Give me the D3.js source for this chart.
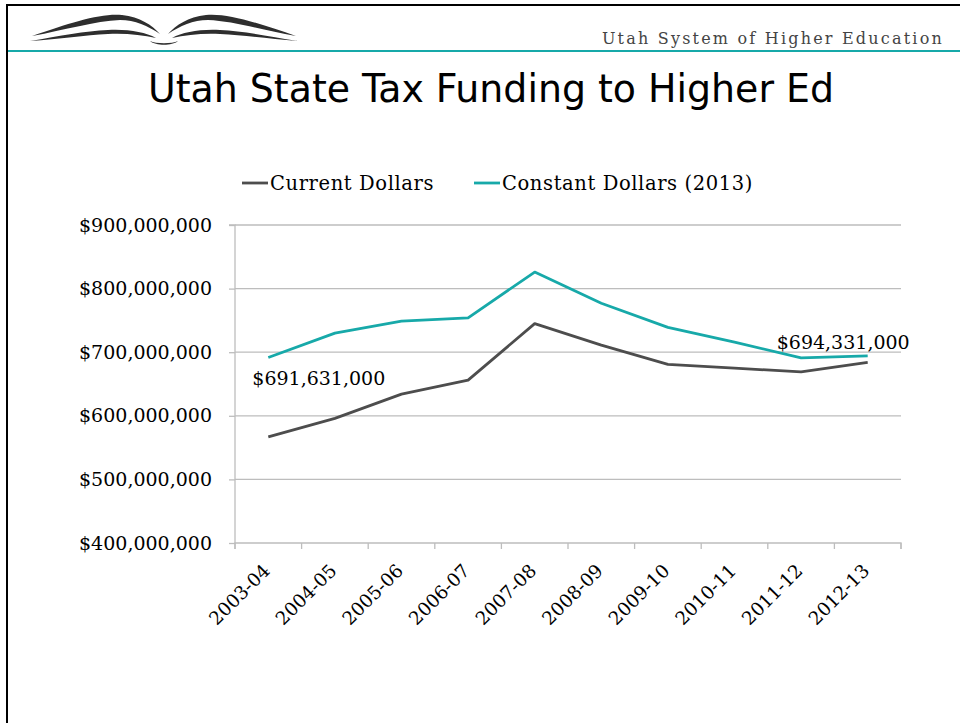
<!DOCTYPE html>
<html><head><meta charset="utf-8">
<script src="https://cdn.jsdelivr.net/npm/d3@7"></script>
<style>html,body{margin:0;padding:0;background:#fff;}svg{display:block;}</style>
</head><body>
<svg id="c" width="960" height="723"></svg>
<script>
const categories = ["2003-04","2004-05","2005-06","2006-07","2007-08","2008-09","2009-10","2010-11","2011-12","2012-13"];
const currentDollars = [567e6, 596e6, 634e6, 656e6, 745e6, 711e6, 681e6, 675e6, 669e6, 684e6];
const constantDollars = [691631000, 730e6, 749e6, 754e6, 826e6, 777e6, 739e6, 716e6, 691e6, 694331000];
const yTicks = [400e6, 500e6, 600e6, 700e6, 800e6, 900e6];
const seriesNames = ["Current Dollars", "Constant Dollars (2013)"];
const colors = ["#4d4d4d", "#17a9a9"];

const svg = d3.select("#c");
// slide frame
svg.append("line").attr("x1",6).attr("x2",960).attr("y1",5).attr("y2",5).attr("stroke","#000").attr("stroke-width",2);
svg.append("line").attr("x1",7).attr("x2",7).attr("y1",4).attr("y2",723).attr("stroke","#000").attr("stroke-width",2);
svg.append("line").attr("x1",8).attr("x2",960).attr("y1",51).attr("y2",51).attr("stroke","#17a9a9").attr("stroke-width",2);

// logo (open book)
const lg = svg.append("g").attr("fill","#2e2e2e");
lg.append("path").attr("d","M32,36 C70,23 100,13 122,15 C140,17 152,25 160,34 C148,26 135,20 120,20 C95,21 65,30 32,36 Z");
lg.append("path").attr("d","M30,41 C60,36 85,31 108,30 C128,29 145,32 156,38 C142,35 125,33 108,34 C85,35 60,39 30,41 Z");
lg.append("path").attr("d","M296,36 C258,23 228,13 206,15 C188,17 176,25 168,34 C180,26 193,20 208,20 C233,21 263,30 296,36 Z");
lg.append("path").attr("d","M298,41 C268,36 243,31 220,30 C200,29 183,32 172,38 C186,35 203,33 220,34 C243,35 268,39 298,41 Z");
lg.append("path").attr("d","M150,41 C156,46 172,46 178,41 C172,44 156,44 150,41 Z");

svg.append("text").attr("x",944).attr("y",44).attr("text-anchor","end")
  .attr("font-family","'DejaVu Serif', 'Liberation Serif', serif").attr("font-size",16)
  .attr("letter-spacing","2.2px").attr("fill","#444").text("Utah System of Higher Education");

svg.append("text").attr("x",491).attr("y",102).attr("text-anchor","middle")
  .attr("font-family","'DejaVu Sans Condensed', 'Liberation Sans Narrow', 'DejaVu Sans', sans-serif")
  .attr("font-size",39).attr("textLength",686).attr("lengthAdjust","spacingAndGlyphs")
  .attr("fill","#000").text("Utah State Tax Funding to Higher Ed");

const m = {left:235, right:901, top:225, bottom:543};
const x = d3.scaleBand().domain(categories).range([m.left, m.right]);
const y = d3.scaleLinear().domain([400e6, 900e6]).range([m.bottom, m.top]);
const serif = "'DejaVu Serif', 'Liberation Serif', serif";
const fs = 19;

// grid
svg.append("g").selectAll("line").data(yTicks.slice(1)).join("line")
  .attr("x1",m.left).attr("x2",m.right).attr("y1",d=>y(d)).attr("y2",d=>y(d))
  .attr("stroke","#bdbdbd").attr("stroke-width",1.3);

// y axis
const ya = svg.append("g").attr("transform",`translate(${m.left},0)`)
  .call(d3.axisLeft(y).tickValues(yTicks).tickSize(6).tickPadding(17).tickFormat(d=>"$"+d3.format(",")(d)));
ya.select(".domain").attr("stroke","#bdbdbd").attr("stroke-width",1.3).attr("d",`M-6,${m.top}H0V${m.bottom}`);
ya.selectAll(".tick line").attr("stroke","#bdbdbd").attr("stroke-width",1.3);
ya.selectAll("text").attr("font-family",serif).attr("font-size",fs).attr("fill","#000");

// x axis
const xa = svg.append("g").attr("transform",`translate(0,${m.bottom})`)
  .call(d3.axisBottom(x).tickSize(6).tickFormat(""));
xa.select(".domain").attr("stroke","#bdbdbd").attr("stroke-width",1.3).attr("d",`M${m.left},6V0H${m.right}V6`);
xa.selectAll(".tick").remove();
const bounds = [...categories.map(c=>x(c)), m.right];
xa.selectAll("line.tk").data(bounds).join("line").attr("class","tk")
  .attr("x1",d=>d).attr("x2",d=>d).attr("y1",0).attr("y2",6).attr("stroke","#bdbdbd").attr("stroke-width",1.3);
svg.append("g").selectAll("text").data(categories).join("text")
  .attr("transform",d=>`translate(${x(d)+x.bandwidth()/2-7},${m.bottom+19}) rotate(-45)`)
  .attr("text-anchor","end").attr("dy","0.75em")
  .attr("font-family",serif).attr("font-size",18.5).attr("fill","#000").text(d=>d);

// lines
const line = d3.line().x((d,i)=>x(categories[i])+x.bandwidth()/2).y(d=>y(d));
[currentDollars, constantDollars].forEach((s,i)=>{
  svg.append("path").datum(s).attr("d",line).attr("fill","none")
    .attr("stroke",colors[i]).attr("stroke-width",2.8).attr("stroke-linejoin","round");
});

// data labels
const fmt = d=>"$"+d3.format(",")(d);
svg.append("text").attr("x",x(categories[0])+x.bandwidth()/2-16).attr("y",y(constantDollars[0])+27)
  .attr("font-family",serif).attr("font-size",fs).attr("fill","#000").text(fmt(constantDollars[0]));
svg.append("text").attr("x",x(categories[9])+x.bandwidth()/2+42).attr("y",y(constantDollars[9])-7)
  .attr("text-anchor","end")
  .attr("font-family",serif).attr("font-size",fs).attr("fill","#000").text(fmt(constantDollars[9]));

// legend
const lgx = [242, 474];
seriesNames.forEach((n,i)=>{
  svg.append("line").attr("x1",lgx[i]).attr("x2",lgx[i]+26).attr("y1",183).attr("y2",183)
    .attr("stroke",colors[i]).attr("stroke-width",2.8);
  svg.append("text").attr("x",lgx[i]+28).attr("y",190).attr("font-family",serif)
    .attr("font-size",19.5).attr("letter-spacing","0.6px").attr("fill","#000").text(n);
});
</script>
</body></html>
